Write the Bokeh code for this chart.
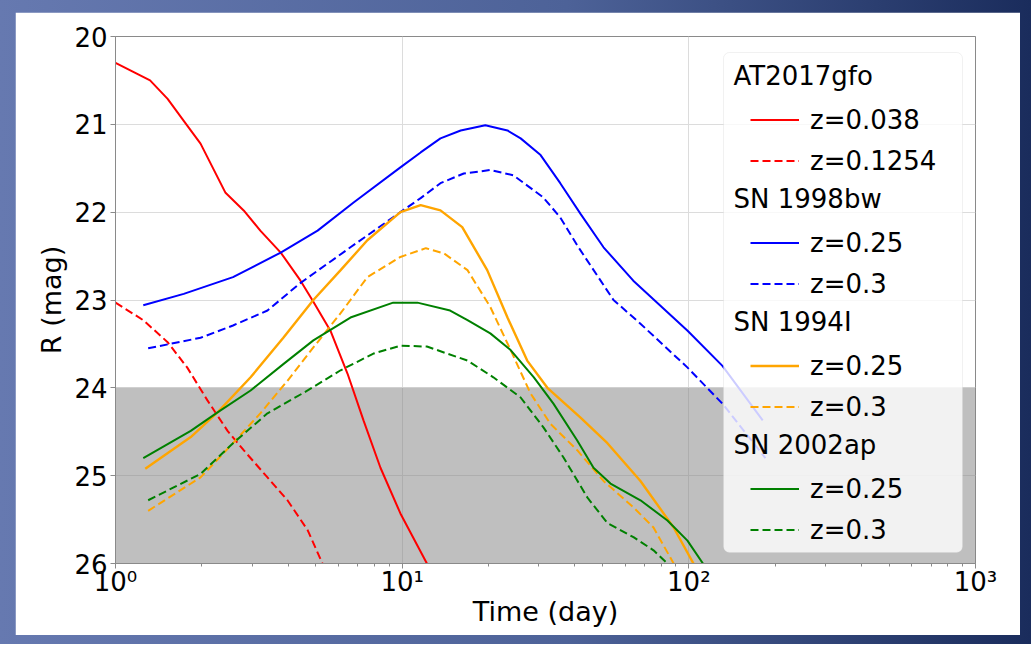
from bokeh.plotting import figure
from bokeh.models import Range1d, FixedTicker, Legend, LegendItem, Label, BoxAnnotation
from bokeh.layouts import column
from bokeh.embed import file_html
from bokeh.resources import INLINE

# ---------------- data ----------------
# AT2017gfo
at_z1_label = "z=0.038"
at_z1_t = [1.0, 1.32, 1.52, 1.73, 1.98, 2.42, 2.8, 3.2, 3.77, 4.42, 4.9, 5.62, 6.45, 7.33, 8.4, 9.86, 12.2]
at_z1_m = [20.30, 20.50, 20.71, 20.96, 21.22, 21.78, 21.98, 22.21, 22.46, 22.78, 23.02, 23.35, 23.84, 24.37, 24.91, 25.43, 26.0]
at_z2_label = "z=0.1254"
at_z2_t = [1.0, 1.25, 1.52, 1.78, 2.09, 2.46, 2.8, 3.39, 3.98, 4.68, 5.27]
at_z2_m = [23.03, 23.23, 23.48, 23.77, 24.14, 24.49, 24.71, 25.02, 25.28, 25.62, 26.0]

# SN 1998bw
bw_z1_label = "z=0.25"
bw_z1_t = [1.25, 1.73, 2.57, 3.77, 5.07, 6.77, 9.86, 11.6, 13.6, 16.0, 19.5, 23.3, 25.9, 30.4, 35.6, 41.9, 50.4, 64.0, 99.0, 131.0, 181.0]
bw_z1_m = [23.06, 22.93, 22.74, 22.46, 22.21, 21.89, 21.49, 21.32, 21.16, 21.07, 21.01, 21.07, 21.16, 21.35, 21.67, 22.02, 22.40, 22.78, 23.35, 23.75, 24.37]
bw_z2_label = "z=0.3"
bw_z2_t = [1.3, 1.98, 2.57, 3.39, 4.4, 6.6, 9.86, 11.6, 13.6, 16.4, 20.3, 24.4, 31.0, 35.6, 41.2, 54.6, 67.8, 99.0, 131.0, 185.0]
bw_z2_m = [23.55, 23.43, 23.29, 23.12, 22.81, 22.40, 22.00, 21.84, 21.67, 21.56, 21.52, 21.58, 21.83, 22.06, 22.40, 23.00, 23.27, 23.77, 24.18, 24.80]

# SN 1994I
i_z1_label = "z=0.25"
i_z1_t = [1.27, 1.83, 2.27, 2.96, 3.85, 4.9, 6.1, 7.56, 9.86, 11.6, 13.6, 16.2, 19.8, 23.3, 27.3, 32.1, 41.9, 52.0, 67.8, 88.5, 103.8]
i_z1_m = [24.92, 24.56, 24.28, 23.88, 23.43, 23.00, 22.66, 22.32, 22.00, 21.92, 21.98, 22.17, 22.66, 23.20, 23.69, 24.00, 24.34, 24.63, 25.06, 25.59, 26.0]
i_z2_label = "z=0.3"
i_z2_t = [1.3, 1.98, 2.57, 3.2, 3.98, 4.9, 6.1, 7.56, 9.86, 12.1, 14.0, 16.9, 20.3, 23.9, 28.0, 32.9, 40.8, 50.4, 64.1, 75.3, 88.5]
i_z2_m = [25.40, 25.02, 24.63, 24.29, 23.92, 23.54, 23.15, 22.74, 22.51, 22.41, 22.47, 22.66, 23.08, 23.57, 24.06, 24.41, 24.71, 25.06, 25.36, 25.59, 26.0]

# SN 2002ap
ap_z1_label = "z=0.25"
ap_z1_t = [1.25, 1.83, 2.27, 2.96, 3.85, 4.9, 6.6, 9.3, 11.3, 14.7, 16.9, 20.3, 23.9, 28.8, 33.7, 40.8, 46.5, 53.3, 67.8, 84.2, 98.9, 112.0]
ap_z1_m = [24.80, 24.49, 24.28, 24.03, 23.73, 23.46, 23.20, 23.03, 23.03, 23.12, 23.23, 23.38, 23.57, 23.88, 24.18, 24.60, 24.91, 25.09, 25.28, 25.51, 25.74, 26.0]
ap_z2_label = "z=0.3"
ap_z2_t = [1.3, 1.98, 2.57, 3.39, 4.68, 6.1, 7.94, 9.86, 12.2, 16.9, 20.8, 25.9, 31.1, 36.5, 44.3, 52.0, 64.1, 75.3, 84.2]
ap_z2_m = [25.28, 24.98, 24.63, 24.29, 24.03, 23.80, 23.61, 23.52, 23.53, 23.69, 23.88, 24.11, 24.45, 24.79, 25.25, 25.54, 25.70, 25.85, 26.0]

groups = ["AT2017gfo", "SN 1998bw", "SN 1994I", "SN 2002ap"]
group_colors = ["#ff0000", "#0000ff", "#ffa500", "#008000"]
group_series = [
    [(at_z1_label, at_z1_t, at_z1_m), (at_z2_label, at_z2_t, at_z2_m)],
    [(bw_z1_label, bw_z1_t, bw_z1_m), (bw_z2_label, bw_z2_t, bw_z2_m)],
    [(i_z1_label, i_z1_t, i_z1_m), (i_z2_label, i_z2_t, i_z2_m)],
    [(ap_z1_label, ap_z1_t, ap_z1_m), (ap_z2_label, ap_z2_t, ap_z2_m)],
]
limit_mag = 24.0
x_ticks = [1, 10, 100, 1000]
x_tick_labels = ["10\u2070", "10\u00b9", "10\u00b2", "10\u00b3"]
y_ticks = [20, 21, 22, 23, 24, 25, 26]

# ---------------- figure ----------------
FONT = "DejaVu Sans"
W, H = 1005, 623
ML, MR, MT, MB = 100, 45, 24, 72
frame_h = H - MT - MB

p = figure(width=W, height=H, x_axis_type="log",
           x_range=Range1d(1, 1000), y_range=Range1d(26, 20),
           output_backend="svg", toolbar_location=None,
           min_border_left=ML, min_border_right=MR,
           min_border_top=MT, min_border_bottom=MB)
p.background_fill_color = "white"
p.border_fill_color = "white"
p.outline_line_color = "#8a8a8a"
p.outline_line_width = 1

p.xaxis.ticker = FixedTicker(ticks=x_ticks,
                             minor_ticks=[m * d for d in (1, 10, 100) for m in range(2, 10)])
p.xaxis.major_label_overrides = {t: s for t, s in zip(x_ticks, x_tick_labels)}
p.yaxis.ticker = FixedTicker(ticks=y_ticks)

for ax in (p.xaxis[0], p.yaxis[0]):
    ax.axis_line_color = "#8a8a8a"
    ax.major_tick_line_color = "#8a8a8a"
    ax.minor_tick_line_color = "#8a8a8a" if ax is p.xaxis[0] else None
    ax.major_tick_in = 0
    ax.major_tick_out = 5
    ax.minor_tick_in = 0
    ax.minor_tick_out = 3
    ax.major_label_text_font = FONT
    ax.major_label_text_font_size = "26px"
    ax.major_label_text_color = "black"
    ax.axis_label_text_font = FONT
    ax.axis_label_text_font_size = "27px"
    ax.axis_label_text_font_style = "normal"
    ax.axis_label_text_color = "black"

p.xaxis.axis_label = "Time (day)"
p.yaxis.axis_label = "R (mag)"
p.xaxis.major_label_standoff = -2
p.xaxis.axis_label_standoff = -4
p.yaxis.major_label_standoff = 3
p.yaxis.axis_label_standoff = 4

p.grid.grid_line_color = "#dcdcdc"
p.grid.grid_line_width = 1

# shaded region fainter than limit
shade = BoxAnnotation(top=limit_mag, fill_color="#808080", fill_alpha=0.5,
                      line_color=None, level="underlay")
p.add_layout(shade)

# ---------------- curves ----------------
items = []
for gname, color, sers in zip(groups, group_colors, group_series):
    dummy = p.line(x=[], y=[], line_alpha=0)
    items.append(LegendItem(label=" ", renderers=[dummy]))
    for k, (lab, t, m) in enumerate(sers):
        r = p.line(t, m, line_color=color,
                   line_width=2.4 if (color == "#ffa500" and k == 0) else 2,
                   line_dash="solid" if k == 0 else "8 4")
        items.append(LegendItem(label=lab, renderers=[r]))

# ---------------- legend ----------------
box_l, box_r, box_t, box_b = 723 - 115, 962 - 115, frame_h - (52 - 36), frame_h - (552 - 36)
legend_box = BoxAnnotation(left=box_l, right=box_r, top=box_t, bottom=box_b,
                           left_units="screen", right_units="screen",
                           top_units="screen", bottom_units="screen",
                           fill_color="white", fill_alpha=0.8,
                           line_color="#d0d0d0", line_width=1, border_radius=6)
p.add_layout(legend_box)

row_h = 41
pad = 3
n_rows = len(items)
leg_h = 2 * pad + n_rows * row_h
leg_top = box_t  # screen units from frame bottom
legend = Legend(items=items, location=(753 - 115 - pad, leg_top - leg_h),
                orientation="vertical", padding=pad, spacing=0, margin=0,
                label_height=row_h, glyph_height=row_h, glyph_width=49,
                label_standoff=11, label_text_font=FONT, label_text_font_size="26px",
                label_text_color="black", background_fill_alpha=0,
                border_line_color=None)
p.add_layout(legend)

for gi, gname in enumerate(groups):
    row = gi * 3
    yc = leg_top - pad - row_h * row - row_h / 2
    p.add_layout(Label(x=733 - 115, y=yc, x_units="screen", y_units="screen",
                       text=gname, text_font=FONT, text_font_size="26px",
                       text_color="black", text_baseline="middle", text_align="left"))

page = column(p, styles={
    "padding": "12px 11px 9px 15px",
    "background": "linear-gradient(to right, #6679b0 0%, #4d6298 55%, #1a2c5c 100%)",
})

open("out.html", "w").write(file_html(page, INLINE))
